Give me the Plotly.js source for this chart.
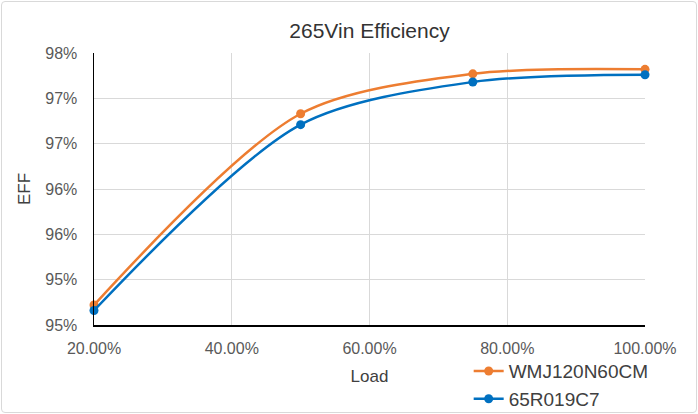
<!DOCTYPE html>
<html>
<head>
<meta charset="utf-8">
<script src="https://cdn.plot.ly/plotly-3.0.1.min.js"></script>
<style>
	body { margin: 0; background: #fff; }
	#wrap { position: relative; width: 698px; height: 414px; }
	#chart { width: 698px; height: 414px; }
	#frame {
		position: absolute; left: 1px; top: 1px; right: 1px; bottom: 1px;
		border: 1px solid #d9d9d9; border-radius: 4px; pointer-events: none;
	}
</style>
</head>
<body>
<div id="wrap">
	<div id="chart"></div>
	<div id="frame"></div>
</div>
<script>
// load points (fraction of full load)
var load = [0.20, 0.50, 0.75, 1.00];

// efficiency
var effWMJ = [0.9522, 0.9733, 0.9777, 0.9782];
var eff65R = [0.9516, 0.9721, 0.9768, 0.9776];

var seriesNames = ['WMJ120N60CM', '65R019C7'];
var seriesColors = ['#ED7D31', '#0070C0'];

// y axis labels as the source shows them (rounded to whole percent)
var yTickVals = [0.95, 0.955, 0.96, 0.965, 0.97, 0.975, 0.98];
var yTickText = ['95%', '95%', '96%', '96%', '97%', '97%', '98%'];
var xTickVals = [0.2, 0.4, 0.6, 0.8, 1.0];

var fontFamily = '"Liberation Sans", Arial, sans-serif';

function makeTrace(y, i) {
	return {
		x: load,
		y: y,
		name: seriesNames[i],
		type: 'scatter',
		mode: 'lines+markers',
		line: {color: seriesColors[i], width: 2.5, shape: 'spline', smoothing: 0.85},
		marker: {color: seriesColors[i], size: 9},
		cliponaxis: false
	};
}

var data = [makeTrace(effWMJ, 0), makeTrace(eff65R, 1)];

var layout = {
	width: 698,
	height: 414,
	margin: {l: 94, r: 53, t: 53, b: 89, autoexpand: false},
	paper_bgcolor: '#fff',
	plot_bgcolor: '#fff',
	font: {family: fontFamily, size: 16, color: '#595959'},
	title: {
		text: '265Vin Efficiency',
		font: {family: fontFamily, size: 21, color: '#333'},
		x: 0.5, xref: 'paper', xanchor: 'center',
		y: 0.925, yref: 'container', yanchor: 'middle'
	},
	xaxis: {
		range: [0.2, 1.0],
		tickvals: xTickVals,
		tickformat: '.2%',
		showgrid: true,
		gridcolor: '#d9d9d9',
		gridwidth: 1,
		zeroline: false,
		showline: true,
		linecolor: '#000',
		linewidth: 1.5,
		ticks: '',
		ticklabelstandoff: 8,
		title: {text: 'Load', standoff: 14, font: {size: 17, color: '#404040'}},
		automargin: false
	},
	yaxis: {
		range: [0.95, 0.98],
		tickvals: yTickVals,
		ticktext: yTickText,
		showgrid: true,
		gridcolor: '#d9d9d9',
		gridwidth: 1,
		zeroline: false,
		showline: true,
		linecolor: '#000',
		linewidth: 1.5,
		ticks: '',
		ticklabelstandoff: 12,
		title: {text: 'EFF', standoff: 10, font: {size: 17, color: '#404040'}},
		automargin: false
	},
	showlegend: true,
	legend: {
		x: 0.68,
		xanchor: 'left',
		y: -0.1,
		yanchor: 'top',
		orientation: 'v',
		bgcolor: 'rgba(0,0,0,0)',
		font: {family: fontFamily, size: 19, color: '#404040'},
		tracegroupgap: 0,
		itemwidth: 30
	}
};

Plotly.newPlot('chart', data, layout, {displayModeBar: false, staticPlot: true});
</script>
</body>
</html>
